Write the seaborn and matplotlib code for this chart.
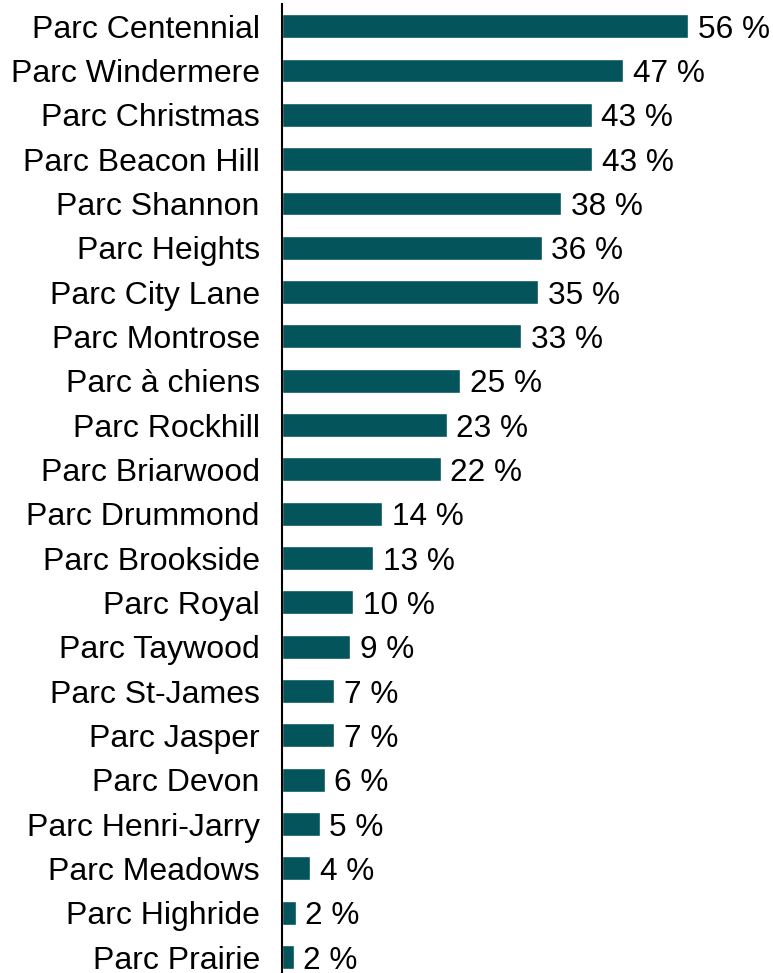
import matplotlib
matplotlib.use("Agg")
import matplotlib.pyplot as plt
import seaborn as sns
import pandas as pd

# park names, top to bottom
parks = ["Parc Centennial", "Parc Windermere", "Parc Christmas", "Parc Beacon Hill",
         "Parc Shannon", "Parc Heights", "Parc City Lane", "Parc Montrose",
         "Parc à chiens", "Parc Rockhill", "Parc Briarwood", "Parc Drummond",
         "Parc Brookside", "Parc Royal", "Parc Taywood", "Parc St-James",
         "Parc Jasper", "Parc Devon", "Parc Henri-Jarry", "Parc Meadows",
         "Parc Highride", "Parc Prairie"]
# share of respondents (%)
shares = [56.0, 47.1, 42.7, 42.8, 38.5, 35.8, 35.3, 33.0, 24.6, 22.7, 21.9,
          13.8, 12.6, 9.8, 9.4, 7.2, 7.2, 5.9, 5.2, 3.9, 1.9, 1.6]

df = pd.DataFrame({"parc": parks, "part": shares})

sns.set_style("white")
plt.rcParams["font.family"] = ["Liberation Sans", "DejaVu Sans"]

fig = plt.figure(figsize=(7.73, 9.73), dpi=100)
# axes placed so the bars line up with the reference
ax = fig.add_axes([282 / 773, 0, 491 / 773, 969 / 973])

sns.barplot(data=df, x="part", y="parc", orient="h", color="#03545b",
            width=0.54, saturation=1, ax=ax)

labels = ax.bar_label(ax.containers[0], labels=[f"{v:.0f} %" for v in shares],
                      padding=7, fontsize=22.7, color="black")
for t in labels:
    t.set_va("center_baseline")

ax.set_xlim(0, 491 / 7.25)
ax.set_ylim(21.36, -0.5)
ax.set_xlabel("")
ax.set_ylabel("")
ax.set_xticks([])
ax.tick_params(axis="y", length=0, pad=16, labelsize=23, labelcolor="black")
for side in ["top", "right", "bottom"]:
    ax.spines[side].set_visible(False)
ax.spines["left"].set_color("black")
ax.spines["left"].set_linewidth(1.5)

fig.savefig("out.png", dpi=100)
